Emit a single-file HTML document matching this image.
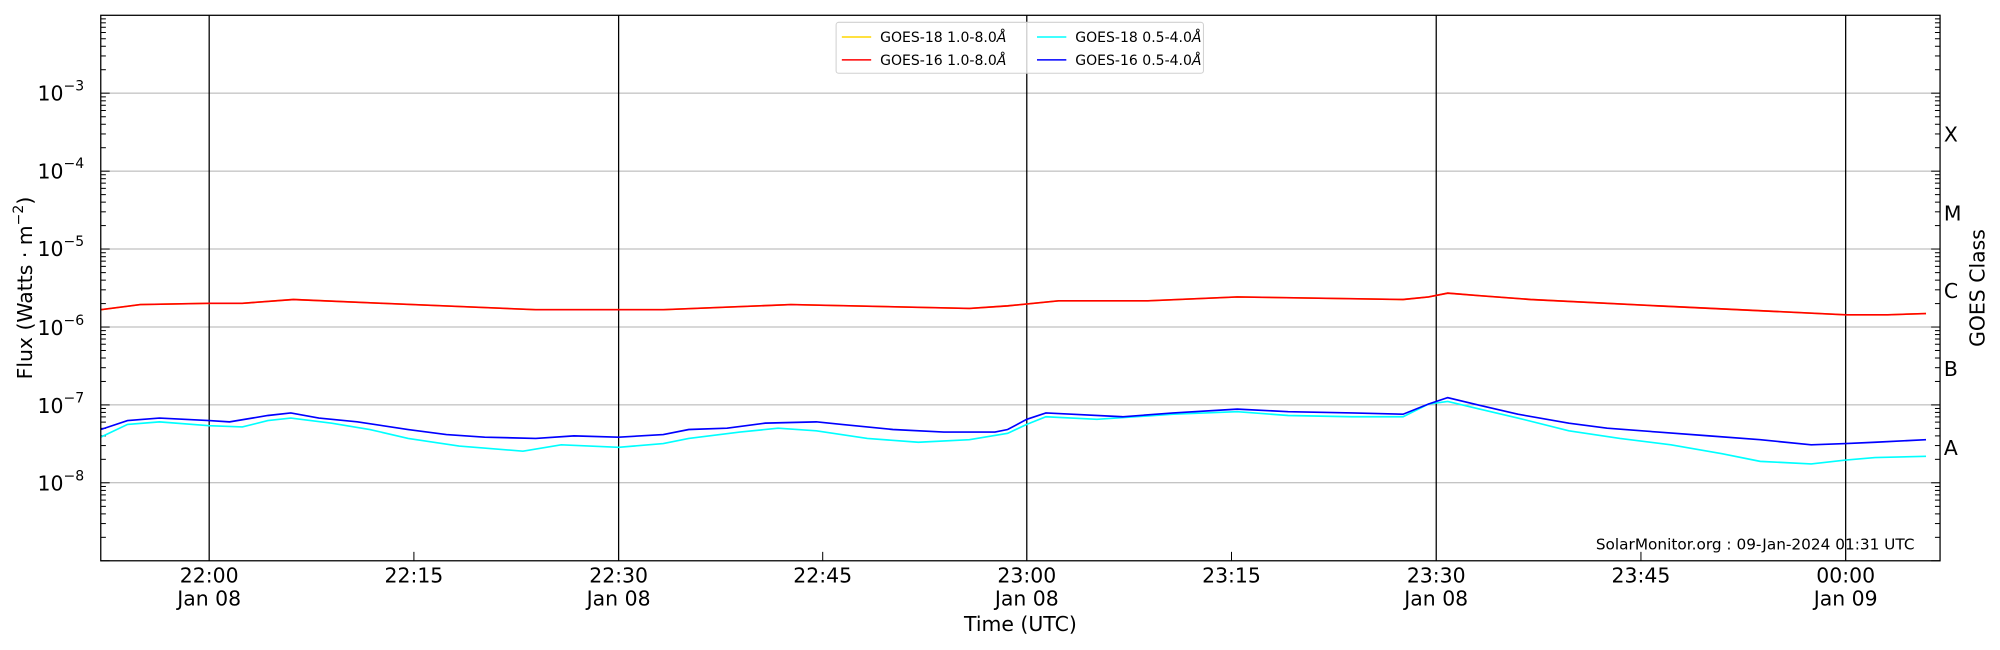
<!DOCTYPE html>
<html><head><meta charset="utf-8"><style>
html,body{margin:0;padding:0;background:#fff;}
svg{display:block;font-family:"DejaVu Sans","Liberation Sans",sans-serif;}
</style></head><body>
<svg width="2000" height="650" viewBox="0 0 1568 510" preserveAspectRatio="none" xmlns="http://www.w3.org/2000/svg">
<defs>
<g id="mL" stroke="#000" stroke-width="0.8">
<line x1="79" x2="83" y1="-18.4" y2="-18.4"/><line x1="79" x2="83" y1="-29.2" y2="-29.2"/><line x1="79" x2="83" y1="-36.8" y2="-36.8"/><line x1="79" x2="83" y1="-42.7" y2="-42.7"/><line x1="79" x2="83" y1="-47.6" y2="-47.6"/><line x1="79" x2="83" y1="-51.7" y2="-51.7"/><line x1="79" x2="83" y1="-55.2" y2="-55.2"/><line x1="79" x2="83" y1="-58.3" y2="-58.3"/>
<line x1="1517" x2="1521" y1="-18.4" y2="-18.4"/><line x1="1517" x2="1521" y1="-29.2" y2="-29.2"/><line x1="1517" x2="1521" y1="-36.8" y2="-36.8"/><line x1="1517" x2="1521" y1="-42.7" y2="-42.7"/><line x1="1517" x2="1521" y1="-47.6" y2="-47.6"/><line x1="1517" x2="1521" y1="-51.7" y2="-51.7"/><line x1="1517" x2="1521" y1="-55.2" y2="-55.2"/><line x1="1517" x2="1521" y1="-58.3" y2="-58.3"/>
<line x1="79" x2="86" y1="0" y2="0"/><line x1="1514" x2="1521" y1="0" y2="0"/>
</g>
</defs>
<rect width="1568" height="510" fill="#fff"/>
<g stroke="#b0b0b0" stroke-width="0.8">
<line x1="79" x2="1521" y1="73.1" y2="73.1"/><line x1="79" x2="1521" y1="134.3" y2="134.3"/><line x1="79" x2="1521" y1="195.4" y2="195.4"/><line x1="79" x2="1521" y1="256.6" y2="256.6"/><line x1="79" x2="1521" y1="317.7" y2="317.7"/><line x1="79" x2="1521" y1="378.8" y2="378.8"/>
</g>
<g stroke="#000" stroke-width="1">
<line x1="164" x2="164" y1="12" y2="440"/><line x1="485" x2="485" y1="12" y2="440"/><line x1="805" x2="805" y1="12" y2="440"/><line x1="1126" x2="1126" y1="12" y2="440"/><line x1="1447" x2="1447" y1="12" y2="440"/>
</g>
<g stroke="#000" stroke-width="0.8">
<line x1="324.5" x2="324.5" y1="433" y2="440"/><line x1="645" x2="645" y1="433" y2="440"/><line x1="965.5" x2="965.5" y1="433" y2="440"/><line x1="1286.5" x2="1286.5" y1="433" y2="440"/>
</g>
<use href="#mL" transform="translate(0,440)"/><use href="#mL" transform="translate(0,378.8)"/><use href="#mL" transform="translate(0,317.7)"/><use href="#mL" transform="translate(0,256.6)"/><use href="#mL" transform="translate(0,195.4)"/><use href="#mL" transform="translate(0,134.3)"/><use href="#mL" transform="translate(0,73.1)"/>
<polyline fill="none" stroke="#00ffff" stroke-width="1.3" points="79,343 100,333 125,331 164,334 190,335 210,330 228,328 260,332 290,337 320,344 360,350 410,354 440,349 485,351 520,348 540,344 580,339 610,336 640,338 680,344 720,347 760,345 790,340 805,333 820,327 860,329 920,325 970,323 1010,326 1060,327 1100,327 1120,317 1135,315 1160,321 1190,328 1230,338 1270,344 1310,349 1350,356 1380,362 1420,364 1447,361 1470,359 1510,358"/>
<polyline fill="none" stroke="#0000ff" stroke-width="1.3" points="79,337 100,330 125,328 164,330 180,331 210,326 228,324 250,328 280,331 320,337 350,341 380,343 420,344 450,342 485,343 520,341 540,337 570,336 600,332 640,331 660,333 700,337 740,339 780,339 790,337 805,329 820,324 840,325 880,327 920,324 970,321 1010,323 1060,324 1100,325 1120,317 1135,312 1160,318 1190,325 1230,332 1260,336 1300,339 1340,342 1380,345 1420,349 1447,348 1470,347 1510,345"/>
<polyline fill="none" stroke="#ffd700" stroke-width="1.3" points="79,243 110,239 164,238 190,238 230,235 300,238 420,243 520,243 620,239 760,242 790,240 830,236 900,236 970,233 1100,235 1120,233 1135,230 1160,232 1200,235 1300,240 1447,247 1480,247 1510,246"/>
<polyline fill="none" stroke="#ff0000" stroke-width="1.3" points="79,243 110,239 164,238 190,238 230,235 300,238 420,243 520,243 620,239 760,242 790,240 830,236 900,236 970,233 1100,235 1120,233 1135,230 1160,232 1200,235 1300,240 1447,247 1480,247 1510,246"/>
<rect x="79" y="12" width="1442" height="428" fill="none" stroke="#000" stroke-width="1"/>
<rect x="655.5" y="17.5" width="288" height="40" rx="2" fill="#fff" fill-opacity="0.8" stroke="#d0d0d0" stroke-width="0.8"/>
<g font-size="11" fill="#000">
<line x1="660" x2="683" y1="29" y2="29" stroke="#ffd700" stroke-width="1.2"/>
<text x="690" y="33">GOES-18 1.0-8.0<tspan font-style="italic">Å</tspan></text>
<line x1="660" x2="683" y1="47" y2="47" stroke="#ff0000" stroke-width="1.2"/>
<text x="690" y="51">GOES-16 1.0-8.0<tspan font-style="italic">Å</tspan></text>
<line x1="813" x2="836" y1="29" y2="29" stroke="#00ffff" stroke-width="1.2"/>
<text x="843" y="33">GOES-18 0.5-4.0<tspan font-style="italic">Å</tspan></text>
<line x1="813" x2="836" y1="47" y2="47" stroke="#0000ff" stroke-width="1.2"/>
<text x="843" y="51">GOES-16 0.5-4.0<tspan font-style="italic">Å</tspan></text>
</g>
<g font-size="16" text-anchor="end">
<text x="66" y="79">10<tspan font-size="11" dy="-8">−3</tspan></text>
<text x="66" y="140">10<tspan font-size="11" dy="-8">−4</tspan></text>
<text x="66" y="201">10<tspan font-size="11" dy="-8">−5</tspan></text>
<text x="66" y="263">10<tspan font-size="11" dy="-8">−6</tspan></text>
<text x="66" y="324">10<tspan font-size="11" dy="-8">−7</tspan></text>
<text x="66" y="385">10<tspan font-size="11" dy="-8">−8</tspan></text>
</g>
<text transform="translate(25,226) rotate(-90)" font-size="16" text-anchor="middle">Flux (Watts · m<tspan font-size="11" dy="-7">−2</tspan><tspan dy="7">)</tspan></text>
<g font-size="16">
<text x="1524" y="111">X</text><text x="1524" y="173">M</text><text x="1524" y="234">C</text><text x="1524" y="295">B</text><text x="1524" y="357">A</text>
</g>
<text transform="translate(1556,226) rotate(-90)" font-size="16" text-anchor="middle">GOES Class</text>
<g font-size="16" text-anchor="middle">
<text x="164" y="457">22:00</text><text x="164" y="475">Jan 08</text>
<text x="324.5" y="457">22:15</text>
<text x="485" y="457">22:30</text><text x="485" y="475">Jan 08</text>
<text x="645" y="457">22:45</text>
<text x="805" y="457">23:00</text><text x="805" y="475">Jan 08</text>
<text x="965.5" y="457">23:15</text>
<text x="1126" y="457">23:30</text><text x="1126" y="475">Jan 08</text>
<text x="1286.5" y="457">23:45</text>
<text x="1447" y="457">00:00</text><text x="1447" y="475">Jan 09</text>
<text x="800" y="495">Time (UTC)</text>
</g>
<text x="1501" y="431" font-size="12" text-anchor="end">SolarMonitor.org : 09-Jan-2024 01:31 UTC</text>
</svg>
</body></html>
